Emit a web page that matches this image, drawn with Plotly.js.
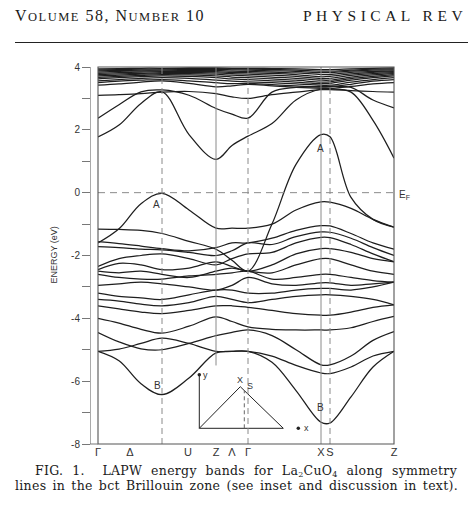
<!DOCTYPE html>
<html>
<head>
<meta charset="utf-8">
<script src="https://cdn.plot.ly/plotly-3.0.1.min.js"></script>
<style>
  html, body { margin:0; padding:0; background:#fff; }
  #wrap { position:relative; width:468px; height:510px; overflow:hidden; background:#fff; }
  #chart { position:absolute; left:0; top:0; width:468px; height:510px; }
  .txt { position:absolute; color:#1a1a1a; font-family:'Liberation Serif','Times New Roman',serif; white-space:nowrap; }
  #hdrL { left:15px; top:7px; font-size:16px; letter-spacing:1.5px; }
  #hdrL .sc { font-size:12.5px; }
  #hdrR { left:303px; top:7px; font-size:15.5px; letter-spacing:4.5px; }
  #rule { position:absolute; left:15px; top:42px; width:453px; height:0; border-top:1.6px solid #222; }
  .cap { font-family:'DejaVu Serif',serif; font-size:12.5px; letter-spacing:0.3px; text-align:justify; text-align-last:justify; white-space:normal; line-height:13px; height:13px; }
  .cap .sb { font-size:8px; vertical-align:-2px; line-height:8px; }
  #cap1 { left:35px; top:464px; width:422px; }
  #cap2 { left:15px; top:479px; width:443px; }
</style>
</head>
<body>
<div id="wrap">
  <div id="chart"></div>
  <div class="txt" id="hdrL">V<span class="sc">OLUME</span> 58, N<span class="sc">UMBER</span> 10</div>
  <div class="txt" id="hdrR">PHYSICAL REV</div>
  <div id="rule"></div>
  <div class="txt cap" id="cap1">FIG. 1.&nbsp; LAPW energy bands for La<span class="sb">2</span>CuO<span class="sb">4</span> along symmetry</div>
  <div class="txt cap" id="cap2">lines in the bct Brillouin zone (see inset and discussion in text).</div>
</div>
<script>
// ---- k-path sample points (path length units, Γ = 0 ... Z = 296)
const kNodes = [0, 21, 43, 64, 91, 118, 134, 150, 174, 198, 223, 232, 253, 275, 296];

// ---- symmetry labels along the path
const symLabels = ['Γ', 'Δ', 'U', 'Z', 'Λ', 'Γ', 'X', 'S', 'Z'];
const symPos    = [0, 32, 90, 118, 134, 150, 223, 232, 296];

// ---- vertical guide lines (k position, style)
const guideK     = [64, 118, 150, 223, 232];
const guideDash  = ['6px,4px', 'solid', '6px,4px', 'solid', '6px,4px'];
const guideFromE = [-8, -5.5, -8, -8, -8];

// ---- energy axis ticks (eV)
const energyTicks  = [-8, -6, -4, -2, 0, 2, 4];
const energyLabels = ['-8', '-6', '-4', '-2', '0', '2', '4'];
const energyMinor  = [-7, -5, -3, -1, 1, 3];

// ---- conduction bands (eV)
const bandC1 = [1.77, 2.15, 2.84, 3.21, 1.85, 1.06, 1.5, 1.8, 2.2, 2.95, 3.3, 3.3, 3.2, 2.3, 1.1];
const bandC2 = [2.37, 2.8, 3.21, 3.27, 3.1, 2.68, 2.5, 2.37, 3.2, 3.35, 3.38, 3.38, 3.35, 2.95, 2.7];
const bandC3 = [3.1, 3.12, 3.15, 3.2, 3.22, 3.15, 3.05, 3.0, 3.12, 3.2, 3.28, 3.28, 3.25, 3.22, 3.2];
const bandT1 = [3.42, 3.46, 3.52, 3.56, 3.48, 3.37, 3.4, 3.45, 3.4, 3.35, 3.32, 3.32, 3.38, 3.46, 3.5];
const bandT2 = [3.5, 3.55, 3.58, 3.6, 3.56, 3.5, 3.47, 3.48, 3.44, 3.4, 3.36, 3.37, 3.45, 3.55, 3.6];
const bandT3 = [3.56, 3.6, 3.64, 3.66, 3.64, 3.58, 3.55, 3.53, 3.5, 3.46, 3.42, 3.42, 3.52, 3.6, 3.66];
const bandT4 = [3.62, 3.66, 3.69, 3.72, 3.7, 3.66, 3.62, 3.6, 3.56, 3.52, 3.47, 3.48, 3.58, 3.66, 3.72];
const bandT5 = [3.67, 3.7, 3.73, 3.76, 3.75, 3.72, 3.68, 3.66, 3.62, 3.58, 3.52, 3.53, 3.63, 3.7, 3.76];
const bandT6 = [3.72, 3.74, 3.77, 3.79, 3.79, 3.77, 3.74, 3.72, 3.68, 3.64, 3.58, 3.58, 3.68, 3.75, 3.79];
const bandT7 = [3.76, 3.78, 3.8, 3.82, 3.83, 3.81, 3.79, 3.77, 3.74, 3.7, 3.63, 3.64, 3.73, 3.79, 3.82];
const bandT8 = [3.8, 3.82, 3.84, 3.85, 3.86, 3.85, 3.83, 3.82, 3.8, 3.76, 3.69, 3.7, 3.78, 3.83, 3.85];
const bandT9 = [3.84, 3.86, 3.87, 3.88, 3.89, 3.89, 3.87, 3.86, 3.84, 3.81, 3.76, 3.76, 3.83, 3.86, 3.88];
const bandT10 = [3.88, 3.89, 3.9, 3.91, 3.92, 3.92, 3.91, 3.9, 3.88, 3.86, 3.82, 3.82, 3.87, 3.9, 3.91];
const bandT11 = [3.91, 3.92, 3.93, 3.94, 3.95, 3.95, 3.94, 3.93, 3.92, 3.9, 3.87, 3.87, 3.9, 3.93, 3.94];
const bandT12 = [3.94, 3.95, 3.96, 3.96, 3.97, 3.97, 3.96, 3.96, 3.95, 3.94, 3.92, 3.92, 3.94, 3.96, 3.97];

// ---- valence bands (eV)
const bandV1 = [-1.6, -1.15, -0.35, -0.02, -0.55, -1.13, -1.13, -1.13, -1.0, -0.55, -0.29, -0.3, -0.5, -0.85, -1.1];
const bandV2 = [-1.16, -1.17, -1.2, -1.3, -1.55, -1.8, -2.15, -2.5, -1.0, 0.9, 1.85, 1.78, -0.15, -0.85, -1.1];
const bandV3 = [-1.56, -1.62, -1.7, -1.78, -1.85, -1.75, -1.6, -1.6, -1.45, -1.2, -1.05, -1.06, -1.3, -1.6, -1.8];
const bandV4 = [-1.72, -1.75, -1.8, -1.82, -1.9, -2.0, -1.85, -1.6, -1.65, -1.4, -1.25, -1.26, -1.45, -1.75, -2.0];
const bandV5 = [-2.35, -2.1, -2.0, -1.95, -2.1, -2.3, -2.1, -1.95, -1.9, -1.6, -1.42, -1.43, -1.65, -1.95, -2.2];
const bandV6 = [-2.45, -2.25, -2.3, -2.45, -2.4, -2.2, -2.35, -2.5, -2.3, -1.95, -1.78, -1.78, -1.9, -2.1, -2.2];
const bandV7 = [-2.5, -2.55, -2.5, -2.6, -2.7, -2.5, -2.4, -2.5, -2.55, -2.3, -2.1, -2.1, -2.3, -2.5, -2.6];
const bandV8 = [-2.6, -2.7, -2.75, -2.75, -2.65, -2.6, -2.55, -2.5, -2.75, -2.7, -2.6, -2.6, -2.7, -2.8, -2.85];
const bandV9 = [-2.95, -2.9, -2.85, -2.9, -3.0, -3.1, -2.95, -2.7, -2.9, -2.95, -2.87, -2.87, -2.95, -2.9, -2.85];
const bandV10 = [-3.2, -3.3, -3.35, -3.4, -3.25, -3.1, -3.1, -3.2, -3.2, -3.1, -3.05, -3.05, -3.1, -3.0, -2.85];
const bandV11 = [-3.4, -3.45, -3.55, -3.6, -3.5, -3.3, -3.4, -3.5, -3.4, -3.3, -3.25, -3.25, -3.3, -3.4, -3.57];
const bandV12 = [-3.6, -3.7, -3.8, -3.85, -3.75, -3.6, -3.6, -3.65, -3.75, -3.85, -3.9, -3.9, -3.8, -3.65, -3.57];
const bandV13 = [-4.0, -4.15, -4.35, -4.47, -4.25, -3.95, -4.1, -4.27, -4.35, -4.37, -4.37, -4.37, -4.3, -4.1, -3.94];
const bandV14 = [-4.45, -4.75, -4.97, -5.0, -4.8, -4.55, -4.45, -4.37, -4.55, -5.0, -5.48, -5.48, -5.2, -4.7, -4.42];
const bandV15 = [-5.05, -4.98, -4.8, -4.63, -4.8, -5.05, -5.05, -5.05, -5.2, -5.5, -5.74, -5.76, -5.55, -5.2, -5.05];
const bandB   = [-5.05, -5.35, -6.08, -6.43, -5.9, -5.1, -5.05, -5.05, -5.4, -6.3, -7.31, -7.33, -6.5, -5.55, -5.05];

const allBands = [bandC1, bandC2, bandC3, bandT1, bandT2, bandT3, bandT4, bandT5, bandT6, bandT7,
  bandT8, bandT9, bandT10, bandT11, bandT12, bandV1, bandV2, bandV3, bandV4, bandV5, bandV6, bandV7,
  bandV8, bandV9, bandV10, bandV11, bandV12, bandV13, bandV14, bandV15, bandB];

// ---- inset Brillouin-zone sketch (own small coordinate frame)
const insetTriX = [0, 41, 84];
const insetTriY = [0, 41.6, 0];
const insetBaseX = [0, 84];
const insetBaseY = [0, 0];
const insetAxisX = [0, 0];
const insetAxisY = [0, 53.5];
const insetSX = [45, 45];
const insetSY = [0, 37.7];
const insetDotX = [0, 99];
const insetDotY = [53.5, 0];
const insetLabelText = ['Γ', 'Δ', 'U', 'Z', 'X', 'S', 'y', 'x'];
const insetLabelX = [0, 22.4, 64, 83, 40.7, 50.5, 6.5, 107];
const insetLabelY = [-6.5, -7, -6.5, -6.5, 48.5, 42.5, 53.5, 0];

// ---- band labels
const bandLabelText = ['A', 'A', 'B', 'B'];
const bandLabelK = [58.7, 222.7, 59.3, 222.7];
const bandLabelE = [-0.39, 1.41, -6.15, -6.84];

const ink = '#1e1e1e';
const traces = allBands.map(b => ({
  x: kNodes, y: b, type: 'scatter', mode: 'lines',
  line: {color: ink, width: 1.25, shape: 'spline', smoothing: 1},
  hoverinfo: 'skip', showlegend: false
}));

const insetLine = {color: '#222', width: 1};
const ins = (x, y, line) => ({x: x, y: y, xaxis: 'x2', yaxis: 'y2', mode: 'lines', line: line, showlegend: false, hoverinfo: 'skip'});
traces.push(ins(insetTriX, insetTriY, insetLine));
traces.push(ins(insetBaseX, insetBaseY, insetLine));
traces.push(ins(insetAxisX, insetAxisY, insetLine));
traces.push(ins(insetSX, insetSY, {color: '#666', width: 1, dash: '4px,3px'}));
traces.push({x: insetDotX, y: insetDotY, xaxis: 'x2', yaxis: 'y2', mode: 'markers', marker: {color: '#222', size: 3.5}, showlegend: false, hoverinfo: 'skip'});

const shapes = guideK.map((k, i) => ({
  type: 'line', xref: 'x', yref: 'y', x0: k, x1: k, y0: guideFromE[i], y1: 4,
  line: {color: '#8a8a8a', width: 1, dash: guideDash[i]}
}));
shapes.push({type: 'line', xref: 'x', yref: 'y', x0: 0, x1: 296, y0: 0, y1: 0, line: {color: '#8a8a8a', width: 1, dash: '7px,5px'}});
shapes.push({type: 'rect', xref: 'x domain', yref: 'y domain', x0: 0, x1: 1, y0: 0, y1: 1, line: {color: '#555', width: 1.1}});
shapes.push({type: 'line', xref: 'paper', yref: 'paper', x0: 0, x1: 8/304, y0: 0, y1: 0, line: {color: '#777', width: 1}});

const annotations = [];
bandLabelText.forEach((t, i) => annotations.push({
  text: t, x: bandLabelK[i], y: bandLabelE[i], xref: 'x', yref: 'y', showarrow: false,
  font: {family: 'Liberation Sans, Arial, sans-serif', size: 10, color: '#333'}
}));
insetLabelText.forEach((t, i) => annotations.push({
  text: t, x: insetLabelX[i], y: insetLabelY[i], xref: 'x2', yref: 'y2', showarrow: false,
  font: {family: 'Liberation Sans, Arial, sans-serif', size: 9, color: '#333'}
}));
annotations.push({
  text: 'E<sub>F</sub>', x: 1.0099, y: 0, xref: 'paper', yref: 'y', xanchor: 'left', yanchor: 'middle',
  yshift: -2, showarrow: false, font: {family: 'Liberation Sans, Arial, sans-serif', size: 10, color: '#333'}
});
// y-axis title placed as rotated text left of the tick labels
annotations.push({
  text: 'ENERGY (eV)', x: (53 - 90) / 304, y: 0.5, xref: 'paper', yref: 'paper', textangle: -90,
  xanchor: 'center', yanchor: 'middle', showarrow: false,
  font: {family: 'Liberation Sans, Arial, sans-serif', size: 9, color: '#333'}
});

const layout = {
  width: 468, height: 510,
  margin: {l: 90, r: 74, t: 67, b: 66, pad: 0},
  paper_bgcolor: 'rgba(0,0,0,0)', plot_bgcolor: 'rgba(0,0,0,0)',
  showlegend: false,
  xaxis: {
    domain: [8/304, 1], range: [0, 296], showgrid: false, zeroline: false, showline: false,
    tickmode: 'array', tickvals: symPos, ticktext: symLabels, ticks: '', tickangle: 0,
    tickfont: {family: 'Liberation Sans, Arial, sans-serif', size: 11, color: '#333'}, fixedrange: true
  },
  yaxis: {
    anchor: 'free', position: 0, range: [-8, 4], showgrid: false, zeroline: false,
    showline: true, linecolor: '#aaa', linewidth: 1,
    tickmode: 'array', tickvals: energyTicks, ticktext: energyLabels,
    ticks: 'outside', ticklen: 8, tickcolor: '#777', tickwidth: 1,
    minor: {tickmode: 'array', tickvals: energyMinor, ticks: 'outside', ticklen: 8, tickcolor: '#777', tickwidth: 1, showgrid: false},
    tickfont: {family: 'Liberation Sans, Arial, sans-serif', size: 10, color: '#333'},
    fixedrange: true
  },
  xaxis2: {domain: [(195 - 90) / 304, (312 - 90) / 304], range: [-4.3, 112.7], anchor: 'y2', visible: false, fixedrange: true},
  yaxis2: {domain: [(444 - 432) / 377, (444 - 368) / 377], range: [-3.7, 60.3], anchor: 'x2', visible: false, fixedrange: true},
  shapes: shapes,
  annotations: annotations
};

Plotly.newPlot('chart', traces, layout, {staticPlot: true, displayModeBar: false});
</script>
</body>
</html>
